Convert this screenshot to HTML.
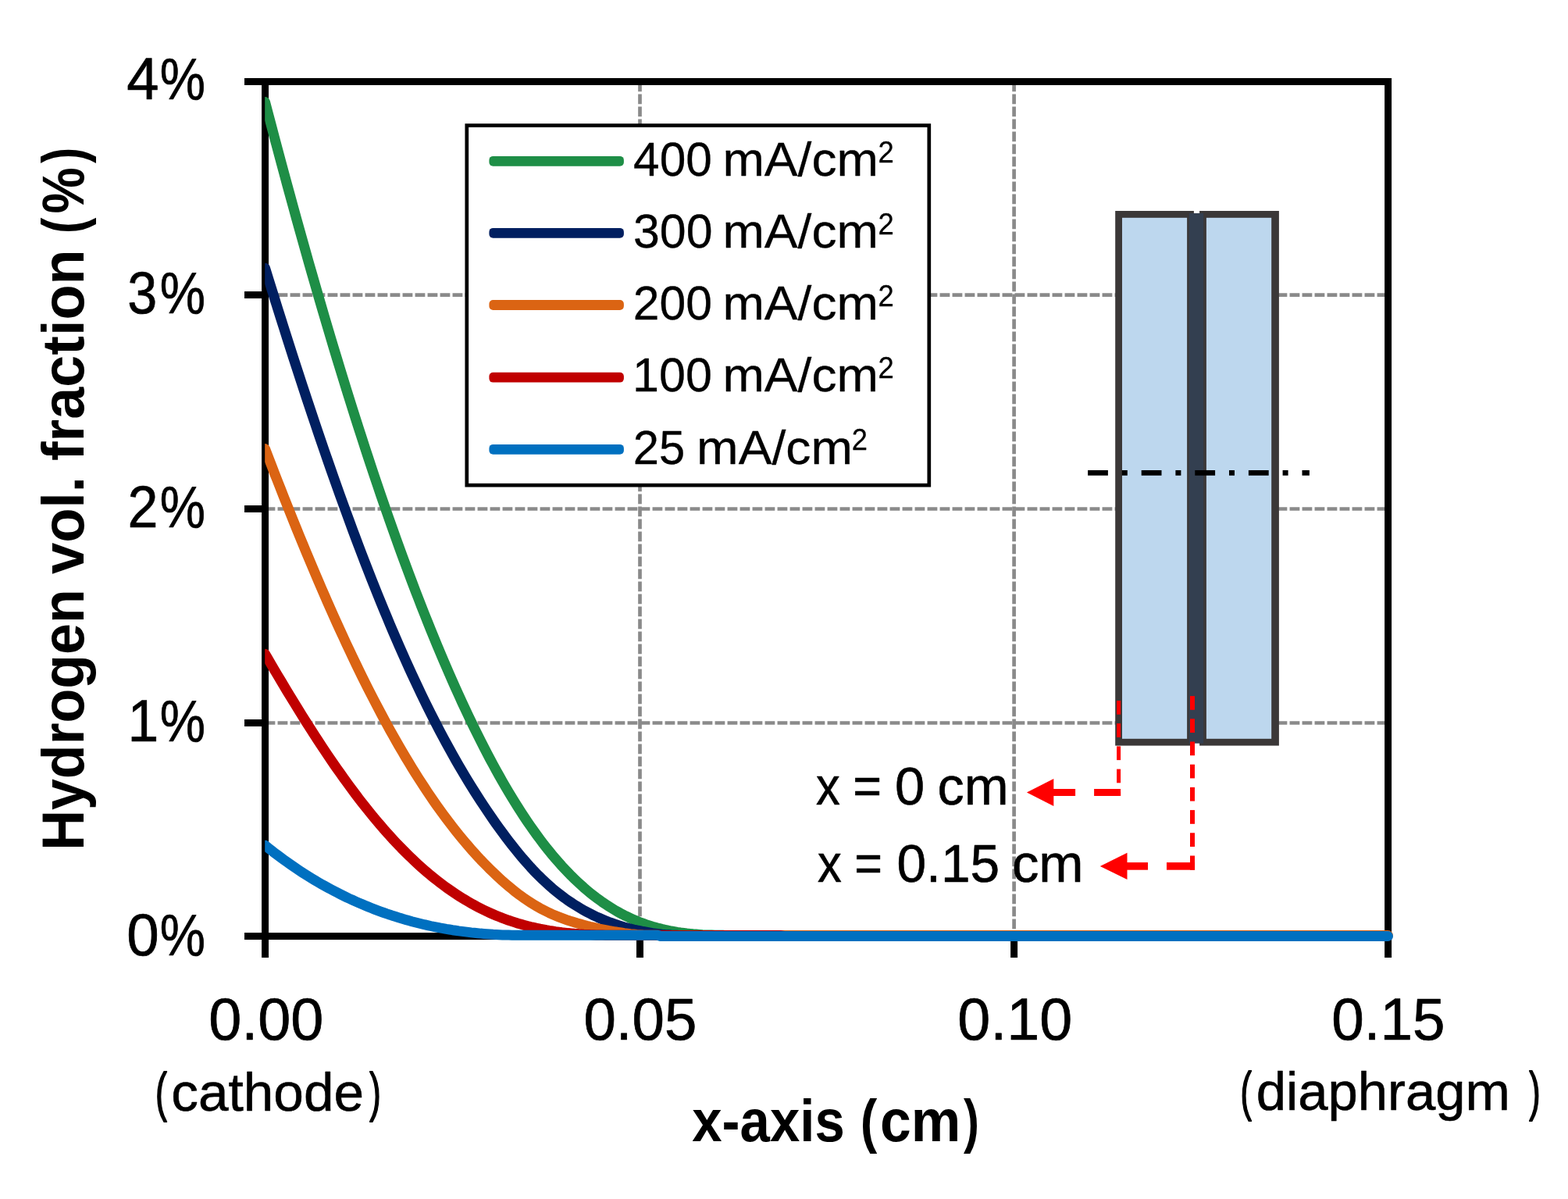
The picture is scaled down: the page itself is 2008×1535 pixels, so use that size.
<!DOCTYPE html>
<html lang="en">
<head>
<meta charset="utf-8">
<title>Hydrogen volume fraction vs x-axis</title>
<style>
html,body{margin:0;padding:0;background:#fff;}
body{width:2008px;height:1535px;overflow:hidden;}
svg{display:block;font-family:"Liberation Sans",sans-serif;}
</style>
</head>
<body>
<svg width="2008" height="1535" viewBox="0 0 2008 1535" role="img" aria-label="Hydrogen volume fraction (%) versus x-axis (cm) for current densities of 25 to 400 mA/cm2">
<rect x="0" y="0" width="2008" height="1535" fill="#fff"/>
<g id="gridlines">
<line x1="819.50" y1="104.5" x2="819.50" y2="1198.55" stroke="#8a8a8a" stroke-width="4.7" stroke-dasharray="12.8 3.2"/>
<line x1="1298.60" y1="104.5" x2="1298.60" y2="1198.55" stroke="#8a8a8a" stroke-width="4.7" stroke-dasharray="12.8 3.2"/>
<line x1="339.55" y1="377.55" x2="1777.6" y2="377.55" stroke="#8a8a8a" stroke-width="4.7" stroke-dasharray="12.8 3.2"/>
<line x1="339.55" y1="651.50" x2="1777.6" y2="651.50" stroke="#8a8a8a" stroke-width="4.7" stroke-dasharray="12.8 3.2"/>
<line x1="339.55" y1="925.50" x2="1777.6" y2="925.50" stroke="#8a8a8a" stroke-width="4.7" stroke-dasharray="12.8 3.2"/>
</g>
<g id="axes">
<rect x="339.55" y="104.5" width="1438.05" height="1094.05" fill="none" stroke="#000" stroke-width="9"/>
<line x1="313" y1="104.50" x2="339.55" y2="104.50" stroke="#000" stroke-width="9"/>
<line x1="313" y1="377.55" x2="339.55" y2="377.55" stroke="#000" stroke-width="9"/>
<line x1="313" y1="651.50" x2="339.55" y2="651.50" stroke="#000" stroke-width="9"/>
<line x1="313" y1="925.50" x2="339.55" y2="925.50" stroke="#000" stroke-width="9"/>
<line x1="313" y1="1198.55" x2="339.55" y2="1198.55" stroke="#000" stroke-width="9"/>
<line x1="339.55" y1="1198.55" x2="339.55" y2="1226" stroke="#000" stroke-width="9"/>
<line x1="819.50" y1="1198.55" x2="819.50" y2="1226" stroke="#000" stroke-width="9"/>
<line x1="1298.60" y1="1198.55" x2="1298.60" y2="1226" stroke="#000" stroke-width="9"/>
<line x1="1777.60" y1="1198.55" x2="1777.60" y2="1226" stroke="#000" stroke-width="9"/>
</g>
<clipPath id="pc"><rect x="339.2" y="90" width="1460" height="1130"/></clipPath>
<g id="series" clip-path="url(#pc)" fill="none" stroke-width="13" stroke-linecap="round" stroke-linejoin="round">
<path id="series-green" d="M339.5 130.6 L343.5 145.8 L347.5 161.0 L351.5 176.1 L355.5 191.1 L359.5 206.1 L363.5 220.9 L367.5 235.7 L371.5 250.3 L375.5 264.9 L379.5 279.4 L383.5 293.8 L387.5 308.1 L391.5 322.3 L395.5 336.4 L399.5 350.4 L403.5 364.3 L407.5 378.1 L411.5 391.9 L415.5 405.5 L419.5 419.0 L423.5 432.5 L427.5 445.8 L431.5 459.0 L435.5 472.1 L439.5 485.2 L443.5 498.1 L447.5 510.9 L451.5 523.6 L455.5 536.2 L459.5 548.7 L463.5 561.1 L467.5 573.4 L471.5 585.6 L475.5 597.7 L479.5 609.7 L483.5 621.5 L487.5 633.3 L491.5 644.9 L495.5 656.5 L499.5 667.9 L503.5 679.2 L507.5 690.4 L511.5 701.5 L515.5 712.4 L519.5 723.3 L523.5 734.0 L527.5 744.6 L531.5 755.2 L535.5 765.5 L539.5 775.8 L543.5 786.0 L547.5 796.0 L551.5 806.0 L555.5 815.8 L559.5 825.5 L563.5 835.0 L567.5 844.5 L571.5 853.8 L575.5 863.0 L579.5 872.1 L583.5 881.1 L587.5 889.9 L591.5 898.7 L595.5 907.3 L599.5 915.7 L603.5 924.1 L607.5 932.3 L611.5 940.4 L615.5 948.4 L619.5 956.3 L623.5 964.0 L627.5 971.6 L631.5 979.0 L635.5 986.3 L639.5 993.5 L643.5 1000.6 L647.5 1007.5 L651.5 1014.3 L655.5 1020.9 L659.5 1027.4 L663.5 1033.8 L667.5 1040.0 L671.5 1046.1 L675.5 1052.1 L679.5 1057.9 L683.5 1063.6 L687.5 1069.1 L691.5 1074.5 L695.5 1079.8 L699.5 1084.9 L703.5 1089.9 L707.5 1094.8 L711.5 1099.5 L715.5 1104.1 L719.5 1108.6 L723.5 1112.9 L727.5 1117.1 L731.5 1121.2 L735.5 1125.1 L739.5 1128.9 L743.5 1132.6 L747.5 1136.2 L751.5 1139.6 L755.5 1142.9 L759.5 1146.1 L763.5 1149.2 L767.5 1152.1 L771.5 1155.0 L775.5 1157.7 L779.5 1160.3 L783.5 1162.8 L787.5 1165.2 L791.5 1167.5 L795.5 1169.7 L799.5 1171.8 L803.5 1173.7 L807.5 1175.6 L811.5 1177.4 L815.5 1179.1 L819.5 1180.7 L823.5 1182.2 L827.5 1183.6 L831.5 1184.9 L835.5 1186.2 L839.5 1187.3 L843.5 1188.4 L847.5 1189.4 L851.5 1190.3 L855.5 1191.2 L859.5 1192.0 L863.5 1192.7 L867.5 1193.4 L871.5 1194.0 L875.5 1194.5 L879.5 1195.0 L883.5 1195.4 L887.5 1195.8 L891.5 1196.1 L895.5 1196.4 L899.5 1196.7 L903.5 1196.9 L907.5 1197.0 L911.5 1197.1 L915.5 1197.2 L919.5 1197.3 L923.5 1197.3 L925.3 1197.3 L935.0 1198.5" stroke="#1e8e46"/>
<path id="series-navy" d="M339.5 343.2 L343.5 356.2 L347.5 369.0 L351.5 381.8 L355.5 394.6 L359.5 407.3 L363.5 419.9 L367.5 432.5 L371.5 445.0 L375.5 457.4 L379.5 469.7 L383.5 482.0 L387.5 494.2 L391.5 506.4 L395.5 518.4 L399.5 530.4 L403.5 542.3 L407.5 554.1 L411.5 565.8 L415.5 577.5 L419.5 589.0 L423.5 600.5 L427.5 611.9 L431.5 623.2 L435.5 634.4 L439.5 645.4 L443.5 656.4 L447.5 667.3 L451.5 678.2 L455.5 688.9 L459.5 699.5 L463.5 710.0 L467.5 720.4 L471.5 730.6 L475.5 740.8 L479.5 750.9 L483.5 760.9 L487.5 770.7 L491.5 780.5 L495.5 790.1 L499.5 799.7 L503.5 809.1 L507.5 818.4 L511.5 827.6 L515.5 836.7 L519.5 845.6 L523.5 854.5 L527.5 863.2 L531.5 871.8 L535.5 880.3 L539.5 888.7 L543.5 897.0 L547.5 905.1 L551.5 913.1 L555.5 921.0 L559.5 928.8 L563.5 936.5 L567.5 944.0 L571.5 951.4 L575.5 958.7 L579.5 965.9 L583.5 973.0 L587.5 979.9 L591.5 986.8 L595.5 993.5 L599.5 1000.1 L603.5 1006.6 L607.5 1013.0 L611.5 1019.3 L615.5 1025.5 L619.5 1031.5 L623.5 1037.5 L627.5 1043.4 L631.5 1049.2 L635.5 1054.9 L639.5 1060.5 L643.5 1065.9 L647.5 1071.3 L651.5 1076.6 L655.5 1081.8 L659.5 1086.8 L663.5 1091.8 L667.5 1096.6 L671.5 1101.3 L675.5 1105.8 L679.5 1110.3 L683.5 1114.6 L687.5 1118.7 L691.5 1122.7 L695.5 1126.6 L699.5 1130.3 L703.5 1133.9 L707.5 1137.4 L711.5 1140.7 L715.5 1143.9 L719.5 1147.0 L723.5 1150.0 L727.5 1152.8 L731.5 1155.5 L735.5 1158.1 L739.5 1160.6 L743.5 1163.0 L747.5 1165.3 L751.5 1167.5 L755.5 1169.6 L759.5 1171.6 L763.5 1173.5 L767.5 1175.3 L771.5 1177.0 L775.5 1178.7 L779.5 1180.3 L783.5 1181.7 L787.5 1183.1 L791.5 1184.5 L795.5 1185.7 L799.5 1186.9 L803.5 1188.0 L807.5 1189.0 L811.5 1190.0 L815.5 1190.9 L819.5 1191.7 L823.5 1192.5 L827.5 1193.2 L831.5 1193.9 L835.5 1194.6 L839.5 1195.1 L843.5 1195.6 L847.5 1196.1 L851.5 1196.5 L855.5 1196.8 L859.5 1197.1 L863.5 1197.2 L866.6 1197.3 L880.0 1198.5" stroke="#001f60"/>
<path id="series-orange" d="M339.5 574.6 L343.5 585.1 L347.5 595.4 L351.5 605.8 L355.5 616.0 L359.5 626.2 L363.5 636.3 L367.5 646.4 L371.5 656.4 L375.5 666.4 L379.5 676.3 L383.5 686.1 L387.5 695.8 L391.5 705.5 L395.5 715.1 L399.5 724.6 L403.5 734.1 L407.5 743.4 L411.5 752.7 L415.5 761.9 L419.5 771.1 L423.5 780.1 L427.5 789.1 L431.5 798.0 L435.5 806.7 L439.5 815.4 L443.5 824.1 L447.5 832.6 L451.5 841.0 L455.5 849.4 L459.5 857.6 L463.5 865.8 L467.5 873.8 L471.5 881.8 L475.5 889.6 L479.5 897.4 L483.5 905.1 L487.5 912.6 L491.5 920.1 L495.5 927.5 L499.5 934.8 L503.5 941.9 L507.5 949.0 L511.5 956.0 L515.5 962.8 L519.5 969.6 L523.5 976.2 L527.5 982.8 L531.5 989.2 L535.5 995.6 L539.5 1001.8 L543.5 1007.9 L547.5 1014.0 L551.5 1019.9 L555.5 1025.7 L559.5 1031.4 L563.5 1037.0 L567.5 1042.5 L571.5 1047.9 L575.5 1053.2 L579.5 1058.4 L583.5 1063.5 L587.5 1068.5 L591.5 1073.3 L595.5 1078.1 L599.5 1082.8 L603.5 1087.4 L607.5 1091.9 L611.5 1096.3 L615.5 1100.6 L619.5 1104.7 L623.5 1108.8 L627.5 1112.8 L631.5 1116.7 L635.5 1120.5 L639.5 1124.2 L643.5 1127.9 L647.5 1131.4 L651.5 1134.8 L655.5 1138.1 L659.5 1141.3 L663.5 1144.4 L667.5 1147.3 L671.5 1150.2 L675.5 1152.9 L679.5 1155.5 L683.5 1158.0 L687.5 1160.4 L691.5 1162.7 L695.5 1164.8 L699.5 1166.8 L703.5 1168.8 L707.5 1170.6 L711.5 1172.3 L715.5 1173.9 L719.5 1175.4 L723.5 1176.9 L727.5 1178.3 L731.5 1179.6 L735.5 1180.8 L739.5 1182.0 L743.5 1183.1 L747.5 1184.2 L751.5 1185.3 L755.5 1186.3 L759.5 1187.2 L763.5 1188.1 L767.5 1189.0 L771.5 1189.8 L775.5 1190.6 L779.5 1191.4 L783.5 1192.1 L787.5 1192.8 L791.5 1193.4 L795.5 1194.0 L799.5 1194.6 L803.5 1195.1 L807.5 1195.6 L811.5 1196.0 L815.5 1196.4 L819.5 1196.7 L823.5 1197.0 L827.5 1197.2 L831.5 1197.3 L833.7 1197.3 L842.0 1197.3 L846.0 1197.5 L1777.5 1197.5" stroke="#db6413"/>
<path id="series-red" d="M339.5 837.3 L343.5 844.1 L347.5 851.0 L351.5 857.8 L355.5 864.5 L359.5 871.2 L363.5 877.9 L367.5 884.6 L371.5 891.2 L375.5 897.7 L379.5 904.2 L383.5 910.7 L387.5 917.1 L391.5 923.5 L395.5 929.8 L399.5 936.1 L403.5 942.3 L407.5 948.4 L411.5 954.5 L415.5 960.5 L419.5 966.5 L423.5 972.4 L427.5 978.2 L431.5 983.9 L435.5 989.6 L439.5 995.3 L443.5 1000.8 L447.5 1006.3 L451.5 1011.7 L455.5 1017.0 L459.5 1022.3 L463.5 1027.4 L467.5 1032.5 L471.5 1037.5 L475.5 1042.5 L479.5 1047.3 L483.5 1052.1 L487.5 1056.8 L491.5 1061.4 L495.5 1066.0 L499.5 1070.4 L503.5 1074.8 L507.5 1079.1 L511.5 1083.3 L515.5 1087.4 L519.5 1091.4 L523.5 1095.3 L527.5 1099.2 L531.5 1103.0 L535.5 1106.7 L539.5 1110.3 L543.5 1113.8 L547.5 1117.2 L551.5 1120.6 L555.5 1123.8 L559.5 1127.0 L563.5 1130.1 L567.5 1133.1 L571.5 1136.1 L575.5 1138.9 L579.5 1141.7 L583.5 1144.4 L587.5 1147.0 L591.5 1149.5 L595.5 1151.9 L599.5 1154.3 L603.5 1156.6 L607.5 1158.8 L611.5 1160.9 L615.5 1163.0 L619.5 1165.0 L623.5 1166.9 L627.5 1168.7 L631.5 1170.5 L635.5 1172.2 L639.5 1173.8 L643.5 1175.4 L647.5 1176.8 L651.5 1178.3 L655.5 1179.6 L659.5 1180.9 L663.5 1182.2 L667.5 1183.3 L671.5 1184.4 L675.5 1185.5 L679.5 1186.5 L683.5 1187.4 L687.5 1188.3 L691.5 1189.2 L695.5 1189.9 L699.5 1190.7 L703.5 1191.4 L707.5 1192.0 L711.5 1192.6 L715.5 1193.1 L719.5 1193.7 L723.5 1194.1 L727.5 1194.6 L731.5 1194.9 L735.5 1195.3 L739.5 1195.6 L743.5 1195.9 L747.5 1196.2 L751.5 1196.4 L755.5 1196.6 L759.5 1196.7 L763.5 1196.9 L767.5 1197.0 L771.5 1197.1 L775.5 1197.2 L779.5 1197.2 L783.5 1197.3 L787.5 1197.3 L790.0 1197.3 L842.0 1197.3 L846.0 1197.5 L1000.0 1197.5 L1005.0 1198.5" stroke="#c00000"/>
<path id="series-blue" d="M339.5 1082.3 L343.5 1085.6 L347.5 1088.7 L351.5 1091.8 L355.5 1094.8 L359.5 1097.8 L363.5 1100.7 L367.5 1103.6 L371.5 1106.4 L375.5 1109.2 L379.5 1111.9 L383.5 1114.6 L387.5 1117.2 L391.5 1119.7 L395.5 1122.2 L399.5 1124.7 L403.5 1127.1 L407.5 1129.5 L411.5 1131.8 L415.5 1134.0 L419.5 1136.2 L423.5 1138.4 L427.5 1140.5 L431.5 1142.6 L435.5 1144.6 L439.5 1146.6 L443.5 1148.6 L447.5 1150.5 L451.5 1152.3 L455.5 1154.1 L459.5 1155.9 L463.5 1157.6 L467.5 1159.3 L471.5 1160.9 L475.5 1162.5 L479.5 1164.1 L483.5 1165.6 L487.5 1167.1 L491.5 1168.5 L495.5 1169.9 L499.5 1171.2 L503.5 1172.6 L507.5 1173.8 L511.5 1175.1 L515.5 1176.3 L519.5 1177.4 L523.5 1178.6 L527.5 1179.7 L531.5 1180.7 L535.5 1181.7 L539.5 1182.7 L543.5 1183.7 L547.5 1184.6 L551.5 1185.5 L555.5 1186.3 L559.5 1187.1 L563.5 1187.9 L567.5 1188.6 L571.5 1189.4 L575.5 1190.0 L579.5 1190.7 L583.5 1191.3 L587.5 1191.9 L591.5 1192.4 L595.5 1192.9 L599.5 1193.4 L603.5 1193.9 L607.5 1194.3 L611.5 1194.7 L615.5 1195.1 L619.5 1195.4 L623.5 1195.7 L627.5 1196.0 L631.5 1196.3 L635.5 1196.5 L639.5 1196.7 L643.5 1196.9 L647.5 1197.0 L651.5 1197.1 L655.5 1197.2 L659.5 1197.3 L663.5 1197.3 L665.6 1197.3 L842.0 1197.3 L846.0 1198.5 L1777.5 1198.5" stroke="#0070c0"/>
</g>
<g id="legend">
<rect x="597.8" y="160.6" width="592" height="460.6" fill="#fff" stroke="#000" stroke-width="4.7"/>
<rect x="626.4" y="199.9" width="172.5" height="12.8" rx="5" ry="5" fill="#1e8e46"/>
<rect x="626.4" y="291.9" width="172.5" height="12.8" rx="5" ry="5" fill="#001f60"/>
<rect x="626.4" y="384.1" width="172.5" height="12.8" rx="5" ry="5" fill="#db6413"/>
<rect x="626.4" y="476.8" width="172.5" height="12.8" rx="5" ry="5" fill="#c00000"/>
<rect x="626.4" y="568.9" width="172.5" height="12.8" rx="5" ry="5" fill="#0070c0"/>
</g>
<g id="cell-schematic">
<rect x="1428.2" y="270" width="100.7" height="684.6" fill="#3b3838"/>
<rect x="1437.0" y="278.8" width="83.1" height="667" fill="#bdd7ee"/>
<rect x="1536.1" y="270" width="101.8" height="684.6" fill="#3b3838"/>
<rect x="1544.9" y="278.8" width="83.3" height="667" fill="#bdd7ee"/>
<rect x="1522.8" y="273" width="18.4" height="678.7" fill="#333f50"/>
<line x1="1393.1" y1="605.4" x2="1676.9" y2="605.4" stroke="#000" stroke-width="6.6" stroke-dasharray="25.8 17.9 7 17.9"/>
</g>
<g id="annotation-arrows">
<rect x="1430.1" y="897.0" width="5.0" height="17.7" fill="#ff0000"/><rect x="1430.1" y="926.2" width="5.0" height="17.7" fill="#ff0000"/><rect x="1430.1" y="955.4" width="5.0" height="17.7" fill="#ff0000"/><rect x="1430.1" y="984.6" width="5.0" height="17.7" fill="#ff0000"/><rect x="1430.1" y="1013.8" width="5.0" height="5.2" fill="#ff0000"/><rect x="1401.1" y="1010.0" width="34.0" height="9.0" fill="#ff0000"/><rect x="1348.8" y="1010.0" width="28.3" height="9.0" fill="#ff0000"/><polygon points="1314.9,1014.5 1349.3,997.1 1349.3,1031.9" fill="#ff0000"/>
<rect x="1524.0" y="891.1" width="6.0" height="17.7" fill="#ff0000"/><rect x="1524.0" y="920.3" width="6.0" height="17.7" fill="#ff0000"/><rect x="1524.0" y="949.5" width="6.0" height="17.7" fill="#ff0000"/><rect x="1524.0" y="978.7" width="6.0" height="17.7" fill="#ff0000"/><rect x="1524.0" y="1007.9" width="6.0" height="17.7" fill="#ff0000"/><rect x="1524.0" y="1037.1" width="6.0" height="17.7" fill="#ff0000"/><rect x="1524.0" y="1066.3" width="6.0" height="17.7" fill="#ff0000"/><rect x="1524.0" y="1095.5" width="6.0" height="18.2" fill="#ff0000"/><rect x="1494.0" y="1104.1" width="36.1" height="9.6" fill="#ff0000"/><rect x="1443.0" y="1104.1" width="27.0" height="9.6" fill="#ff0000"/><polygon points="1408.8,1108.9 1443.5,1091.8000000000002 1443.5,1126.0" fill="#ff0000"/>
</g>
<g id="labels" fill="#000">
<text y="127.00" font-size="75.8" font-weight="400" stroke="#000" stroke-width="0.7" stroke-linejoin="round"><tspan x="162.19" textLength="41.27" lengthAdjust="spacingAndGlyphs">4</tspan><tspan x="204.76" textLength="58.27" lengthAdjust="spacingAndGlyphs">%</tspan></text>
<text y="401.00" font-size="75.8" font-weight="400" stroke="#000" stroke-width="0.7" stroke-linejoin="round"><tspan x="163.35" textLength="37.94" lengthAdjust="spacingAndGlyphs">3</tspan><tspan x="204.76" textLength="58.27" lengthAdjust="spacingAndGlyphs">%</tspan></text>
<text y="675.00" font-size="75.8" font-weight="400" stroke="#000" stroke-width="0.7" stroke-linejoin="round"><tspan x="163.56" textLength="38.93" lengthAdjust="spacingAndGlyphs">2</tspan><tspan x="204.76" textLength="58.27" lengthAdjust="spacingAndGlyphs">%</tspan></text>
<text y="949.00" font-size="75.8" font-weight="400" stroke="#000" stroke-width="0.7" stroke-linejoin="round"><tspan x="163.59" textLength="39.78" lengthAdjust="spacingAndGlyphs">1</tspan><tspan x="204.76" textLength="58.27" lengthAdjust="spacingAndGlyphs">%</tspan></text>
<text y="1223.00" font-size="75.8" font-weight="400" stroke="#000" stroke-width="0.7" stroke-linejoin="round"><tspan x="162.30" textLength="41.45" lengthAdjust="spacingAndGlyphs">0</tspan><tspan x="204.76" textLength="58.27" lengthAdjust="spacingAndGlyphs">%</tspan></text>
<text y="1331.00" font-size="75.8" font-weight="400" stroke="#000" stroke-width="0.7" stroke-linejoin="round"><tspan x="267.16" textLength="147.22" lengthAdjust="spacingAndGlyphs">0.00</tspan></text>
<text y="1331.00" font-size="75.8" font-weight="400" stroke="#000" stroke-width="0.7" stroke-linejoin="round"><tspan x="747.40" textLength="144.92" lengthAdjust="spacingAndGlyphs">0.05</tspan></text>
<text y="1331.00" font-size="75.8" font-weight="400" stroke="#000" stroke-width="0.7" stroke-linejoin="round"><tspan x="1226.16" textLength="147.01" lengthAdjust="spacingAndGlyphs">0.10</tspan></text>
<text y="1331.00" font-size="75.8" font-weight="400" stroke="#000" stroke-width="0.7" stroke-linejoin="round"><tspan x="1705.29" textLength="145.33" lengthAdjust="spacingAndGlyphs">0.15</tspan></text>
<text y="1422.10" font-size="68.6" font-weight="400" stroke="#000" stroke-width="0.6" stroke-linejoin="round"><tspan x="199.00" textLength="14.85" lengthAdjust="spacingAndGlyphs" stroke="#000" stroke-width="1.8">(</tspan><tspan x="219.27" textLength="246.78" lengthAdjust="spacingAndGlyphs">cathode</tspan><tspan x="473.37" textLength="14.47" lengthAdjust="spacingAndGlyphs" stroke="#000" stroke-width="1.8">)</tspan></text>
<text y="1421.20" font-size="68.6" font-weight="400" stroke="#000" stroke-width="0.6" stroke-linejoin="round"><tspan x="1588.49" textLength="14.34" lengthAdjust="spacingAndGlyphs" stroke="#000" stroke-width="1.8">(</tspan><tspan x="1608.69" textLength="325.05" lengthAdjust="spacingAndGlyphs">diaphragm</tspan> <tspan x="1958.17" textLength="14.34" lengthAdjust="spacingAndGlyphs" stroke="#000" stroke-width="1.8">)</tspan></text>
<text y="1460.80" font-size="75.4" font-weight="700"><tspan x="886.29" textLength="195.46" lengthAdjust="spacingAndGlyphs">x-axis</tspan> <tspan x="1101.67" textLength="21.52" lengthAdjust="spacingAndGlyphs">(</tspan><tspan x="1126.95" textLength="103.36" lengthAdjust="spacingAndGlyphs">cm</tspan><tspan x="1234.00" textLength="19.97" lengthAdjust="spacingAndGlyphs">)</tspan></text>
<text y="0.00" transform="translate(106.90 1084.00) rotate(-90)" font-size="75.4" font-weight="700"><tspan x="-4.75" textLength="334.47" lengthAdjust="spacingAndGlyphs">Hydrogen</tspan> <tspan x="349.10" textLength="124.68" lengthAdjust="spacingAndGlyphs">vol.</tspan> <tspan x="494.02" textLength="270.55" lengthAdjust="spacingAndGlyphs">fraction</tspan> <tspan x="784.96" textLength="20.33" lengthAdjust="spacingAndGlyphs">(</tspan><tspan x="810.43" textLength="59.38" lengthAdjust="spacingAndGlyphs">%</tspan><tspan x="875.10" textLength="20.33" lengthAdjust="spacingAndGlyphs">)</tspan></text>
<text y="225.10" font-size="60.8" font-weight="400" stroke="#000" stroke-width="0.3" stroke-linejoin="round"><tspan x="811.11" textLength="100.76" lengthAdjust="spacingAndGlyphs">400</tspan> <tspan x="925.43" textLength="199.49" lengthAdjust="spacingAndGlyphs">mA/cm</tspan><tspan x="1124.41" textLength="20.30" lengthAdjust="spacingAndGlyphs" dy="-17.60" font-size="39.6">2</tspan></text>
<text y="317.30" font-size="60.8" font-weight="400" stroke="#000" stroke-width="0.3" stroke-linejoin="round"><tspan x="811.05" textLength="101.44" lengthAdjust="spacingAndGlyphs">300</tspan> <tspan x="925.43" textLength="199.49" lengthAdjust="spacingAndGlyphs">mA/cm</tspan><tspan x="1124.41" textLength="20.30" lengthAdjust="spacingAndGlyphs" dy="-17.60" font-size="39.6">2</tspan></text>
<text y="409.10" font-size="60.8" font-weight="400" stroke="#000" stroke-width="0.3" stroke-linejoin="round"><tspan x="810.66" textLength="101.23" lengthAdjust="spacingAndGlyphs">200</tspan> <tspan x="925.43" textLength="199.49" lengthAdjust="spacingAndGlyphs">mA/cm</tspan><tspan x="1124.41" textLength="20.30" lengthAdjust="spacingAndGlyphs" dy="-17.60" font-size="39.6">2</tspan></text>
<text y="501.30" font-size="60.8" font-weight="400" stroke="#000" stroke-width="0.3" stroke-linejoin="round"><tspan x="810.03" textLength="101.87" lengthAdjust="spacingAndGlyphs">100</tspan> <tspan x="925.43" textLength="199.49" lengthAdjust="spacingAndGlyphs">mA/cm</tspan><tspan x="1124.41" textLength="20.30" lengthAdjust="spacingAndGlyphs" dy="-17.60" font-size="39.6">2</tspan></text>
<text y="594.00" font-size="60.8" font-weight="400" stroke="#000" stroke-width="0.3" stroke-linejoin="round"><tspan x="810.70" textLength="66.43" lengthAdjust="spacingAndGlyphs">25</tspan> <tspan x="892.12" textLength="199.90" lengthAdjust="spacingAndGlyphs">mA/cm</tspan><tspan x="1090.72" textLength="20.18" lengthAdjust="spacingAndGlyphs" dy="-17.60" font-size="39.6">2</tspan></text>
<text y="1029.60" font-size="68.6" font-weight="400" stroke="#000" stroke-width="0.6" stroke-linejoin="round"><tspan x="1045.10" textLength="30.76" lengthAdjust="spacingAndGlyphs">x</tspan> <tspan x="1092.25" textLength="36.76" lengthAdjust="spacingAndGlyphs">=</tspan> <tspan x="1146.10" textLength="38.16" lengthAdjust="spacingAndGlyphs">0</tspan> <tspan x="1200.51" textLength="91.00" lengthAdjust="spacingAndGlyphs">cm</tspan></text>
<text y="1129.00" font-size="68.6" font-weight="400" stroke="#000" stroke-width="0.6" stroke-linejoin="round"><tspan x="1047.00" textLength="30.76" lengthAdjust="spacingAndGlyphs">x</tspan> <tspan x="1094.23" textLength="35.70" lengthAdjust="spacingAndGlyphs">=</tspan> <tspan x="1148.44" textLength="131.73" lengthAdjust="spacingAndGlyphs">0.15</tspan> <tspan x="1295.99" textLength="91.66" lengthAdjust="spacingAndGlyphs">cm</tspan></text>
</g>
</svg>
</body>
</html>
